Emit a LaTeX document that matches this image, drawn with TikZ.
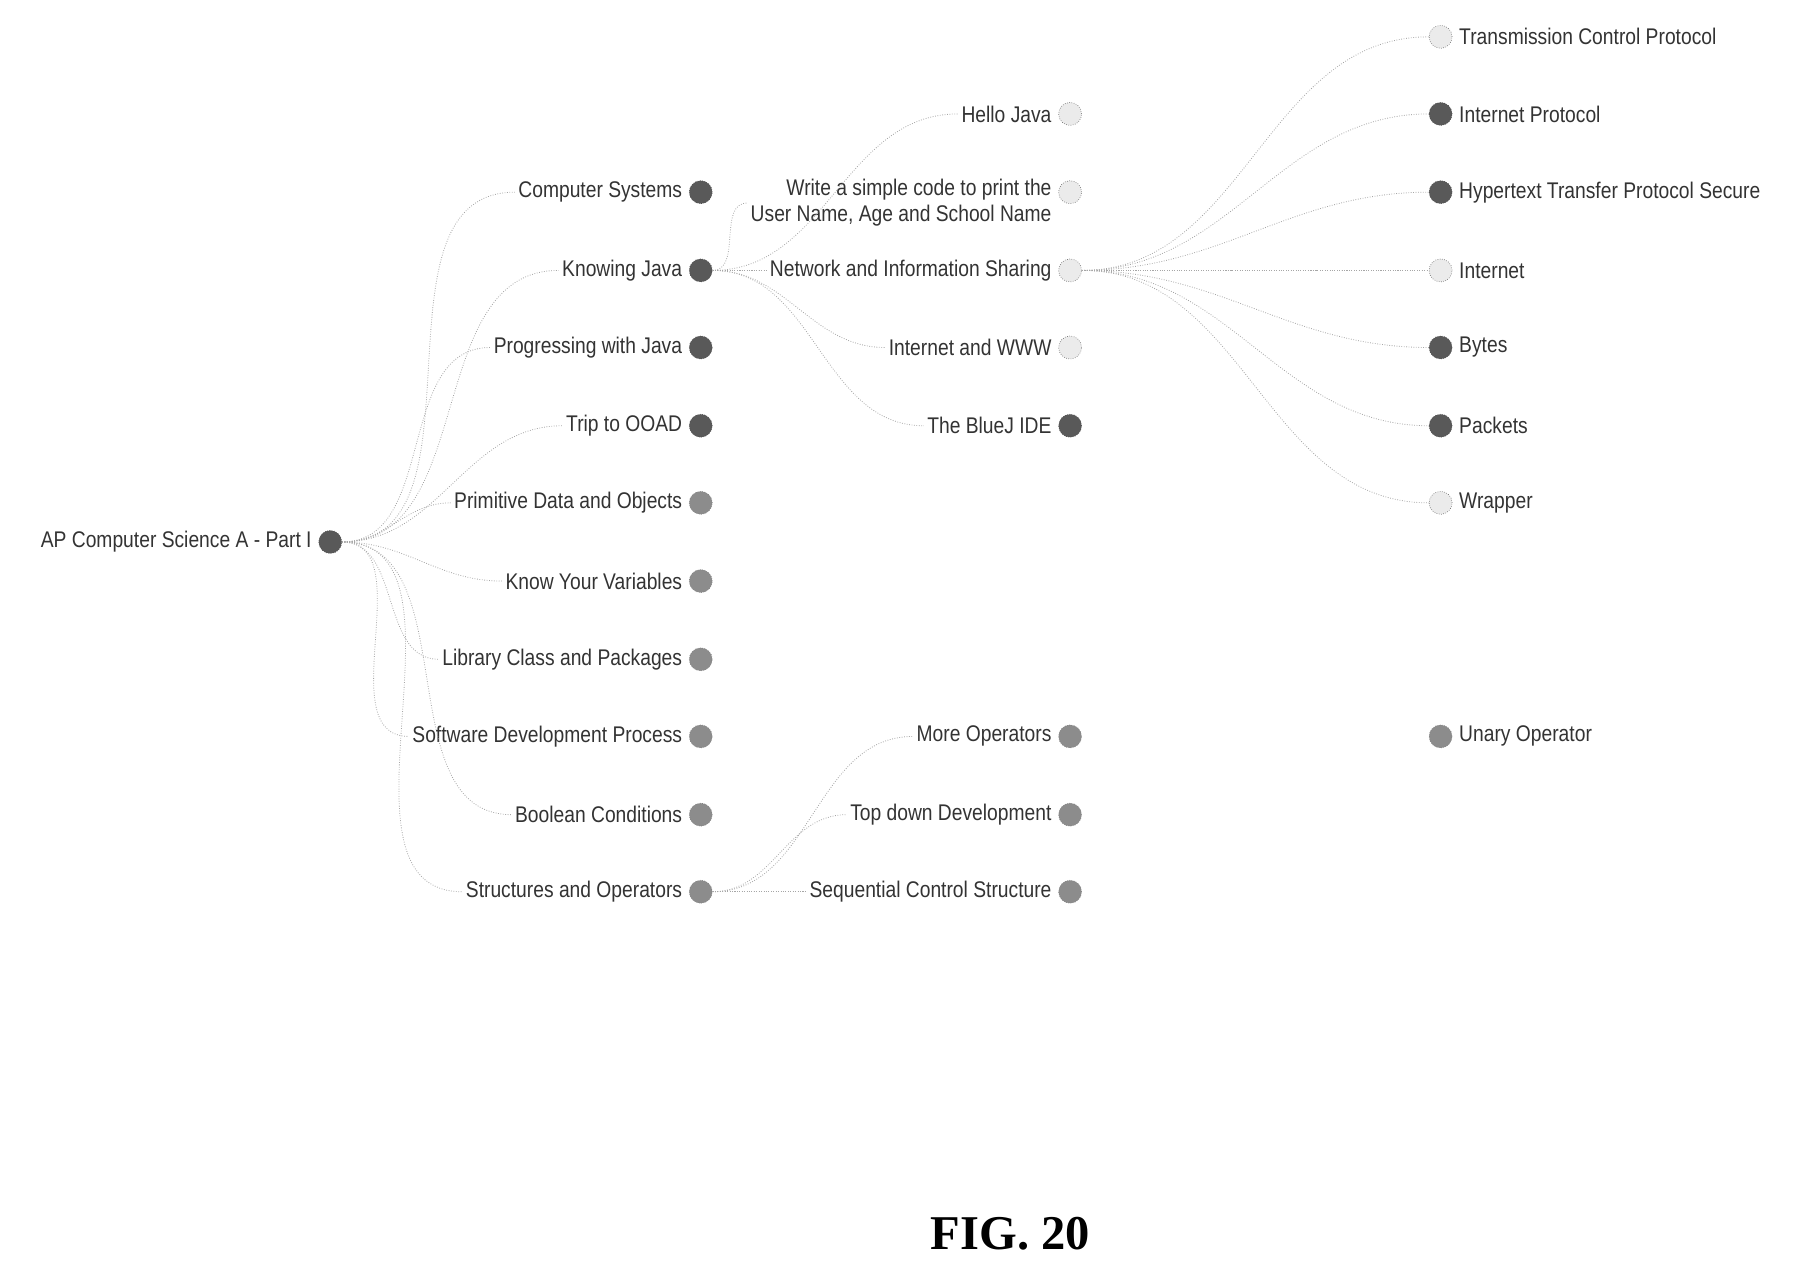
\documentclass[tikz,border=0pt]{standalone}
\usepackage{fontspec}
\setmainfont{Liberation Sans}[FakeStretch=0.85]
\newfontfamily\figfont{Liberation Serif}
\usetikzlibrary{positioning}
\begin{document}
\begin{tikzpicture}[x=0.025cm,y=-0.025cm,
  dk/.style={circle,draw=gray!60!black,densely dotted,fill=black!65,minimum size=0.5cm,inner sep=0pt},
  md/.style={circle,draw=gray,densely dotted,fill=black!45,minimum size=0.5cm,inner sep=0pt},
  lt/.style={circle,draw=gray!80!black,densely dotted,fill=black!8,minimum size=0.5cm,inner sep=0pt},
  lab/.style={font=\fontsize{14}{16}\selectfont,text=black!80,inner sep=2pt},
  lk/.style={draw=gray!70,densely dotted,line width=0.5pt}]
\useasboundingbox (0,0) rectangle (1560,1100);
% root
\node[dk] (r) at (287,471) {};
\node[lab,left=2pt of r] (rl) {AP Computer Science A - Part I};
% column 1
\foreach \n/\y/\s/\t in {c1/167/dk/Computer Systems,c2/235/dk/Knowing Java,c3/302/dk/Progressing with Java,c4/370/dk/Trip to OOAD,c5/437/md/Primitive Data and Objects,c6/505/md/Know Your Variables,c7/573/md/Library Class and Packages,c8/640/md/Software Development Process,c9/708/md/Boolean Conditions,c10/775/md/Structures and Operators}{
  \node[\s] (\n) at (609,\y) {};
  \node[lab,left=2pt of \n] (\n l) {\t};
}
% column 2
\foreach \n/\y/\s/\t in {d1/99/lt/Hello Java,d3/235/lt/Network and Information Sharing,d4/302/lt/Internet and WWW,d5/370/dk/The BlueJ IDE,d6/640/md/More Operators,d7/708/md/Top down Development,d8/775/md/Sequential Control Structure}{
  \node[\s] (\n) at (930,\y) {};
  \node[lab,left=2pt of \n] (\n l) {\t};
}
\node[lt] (d2) at (930,167) {};
\node[lab,left=2pt of d2,anchor=north east,yshift=10pt,align=right] (d2l) {Write a simple code to print the\\User Name, Age and School Name};
% column 3
\foreach \n/\y/\s/\t in {e1/32/lt/Transmission Control Protocol,e2/99/dk/Internet Protocol,e3/167/dk/Hypertext Transfer Protocol Secure,e4/235/lt/Internet,e5/302/dk/Bytes,e6/370/dk/Packets,e7/437/lt/Wrapper,e8/640/md/Unary Operator}{
  \node[\s] (\n) at (1252,\y) {};
  \node[lab,right=2pt of \n] (\n l) {\t};
}
% edges
\foreach \c in {c1,c2,c3,c4,c5,c6,c7,c8,c9,c10}
  \draw[lk] (r.east) to[out=0,in=180] (\c l.west);
\foreach \c in {d1,d2,d3,d4,d5}
  \draw[lk] (c2.east) to[out=0,in=180] (\c l.west);
\foreach \c in {e1,e2,e3,e4,e5,e6,e7}
  \draw[lk] (d3.east) to[out=0,in=180] (\c.west);
\foreach \c in {d6,d7,d8}
  \draw[lk] (c10.east) to[out=0,in=180] (\c l.west);
\node[font=\figfont\bfseries\fontsize{30}{34}\selectfont] (fig) at (878,1072) {FIG. 20};
\end{tikzpicture}
\end{document}
